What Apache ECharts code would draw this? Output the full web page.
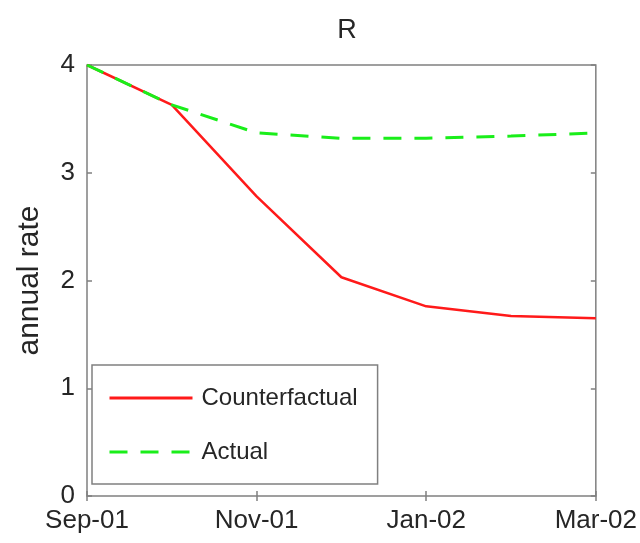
<!DOCTYPE html>
<html>
<head>
<meta charset="utf-8">
<script src="https://cdn.jsdelivr.net/npm/echarts@6/dist/echarts.min.js"></script>
<style>html,body{margin:0;padding:0;background:#fff}#c{width:640px;height:543px}</style>
</head>
<body>
<div id="c"></div>
<script>
const months = ['Sep-01','Oct-01','Nov-01','Dec-01','Jan-02','Feb-02','Mar-02'];
const counterfactual = [4.0, 3.63, 2.78, 2.03, 1.76, 1.67, 1.65];
const actual = [4.0, 3.63, 3.37, 3.32, 3.32, 3.34, 3.37];
const yTicks = [0, 1, 2, 3, 4];
const titleText = 'R';
const yName = 'annual rate';

const font = 'Liberation Sans, Arial, sans-serif';
const axisGray = '#808080';
const textCol = '#262626';
const chart = echarts.init(document.getElementById('c'));
chart.setOption({
  animation: false,
  backgroundColor: '#fff',
  title: { text: titleText, left: 342, textAlign: 'center', top: 12,
    textStyle: { fontFamily: font, fontSize: 27, fontWeight: 'normal', color: textCol } },
  grid: { left: 87, right: 43, top: 65, bottom: 47, show: true, borderColor: axisGray, borderWidth: 1.5, backgroundColor: 'transparent' },
  legend: {
    orient: 'vertical', left: 92, top: 365,
    padding: [21, 20, 20, 16], itemGap: 30, itemWidth: 83, itemHeight: 24,
    borderColor: axisGray, borderWidth: 1.5, backgroundColor: '#fff',
    itemStyle: { opacity: 0 },
    lineStyle: { width: 3 },
    textStyle: { fontFamily: font, fontSize: 24, color: textCol, padding: [0, 0, 0, 4] },
    data: [{ name: 'Counterfactual' }, { name: 'Actual' }]
  },
  xAxis: [{
    type: 'category', data: months, boundaryGap: false,
    axisLine: { show: false },
    axisTick: { show: true, inside: true, length: 5, interval: 1, lineStyle: { color: axisGray, width: 1.5 } },
    axisLabel: { interval: 1, fontFamily: font, fontSize: 26, color: textCol, margin: 12 },
    splitLine: { show: false }
  }, {
    type: 'category', data: months, boundaryGap: false, position: 'top',
    axisLine: { show: false },
    axisTick: { show: true, inside: true, length: 5, interval: 1, lineStyle: { color: axisGray, width: 1.5 } },
    axisLabel: { show: false }, splitLine: { show: false }
  }],
  yAxis: [{
    type: 'value', min: yTicks[0], max: yTicks[yTicks.length - 1], interval: 1,
    name: yName, nameLocation: 'middle', nameGap: 42,
    nameTextStyle: { fontFamily: font, fontSize: 30, color: textCol },
    axisLine: { show: false },
    axisTick: { show: true, inside: true, length: 5, lineStyle: { color: axisGray, width: 1.5 } },
    axisLabel: { fontFamily: font, fontSize: 26, color: textCol, margin: 12 },
    splitLine: { show: false }
  }, {
    type: 'value', min: yTicks[0], max: yTicks[yTicks.length - 1], interval: 1, position: 'right',
    axisLine: { show: false },
    axisTick: { show: true, inside: true, length: 5, lineStyle: { color: axisGray, width: 1.5 } },
    axisLabel: { show: false }, splitLine: { show: false }
  }],
  series: [{
    name: 'Counterfactual', type: 'line', data: counterfactual, symbol: 'none',
    itemStyle: { color: '#ff1a1a' },
    lineStyle: { color: '#ff1a1a', width: 2.5, type: 'solid' }, z: 2
  }, {
    name: 'Actual', type: 'line', data: actual, symbol: 'none',
    itemStyle: { color: '#1aee1a' },
    lineStyle: { color: '#1aee1a', width: 3, type: [18, 13] }, z: 3
  }]
});
</script>
</body>
</html>
